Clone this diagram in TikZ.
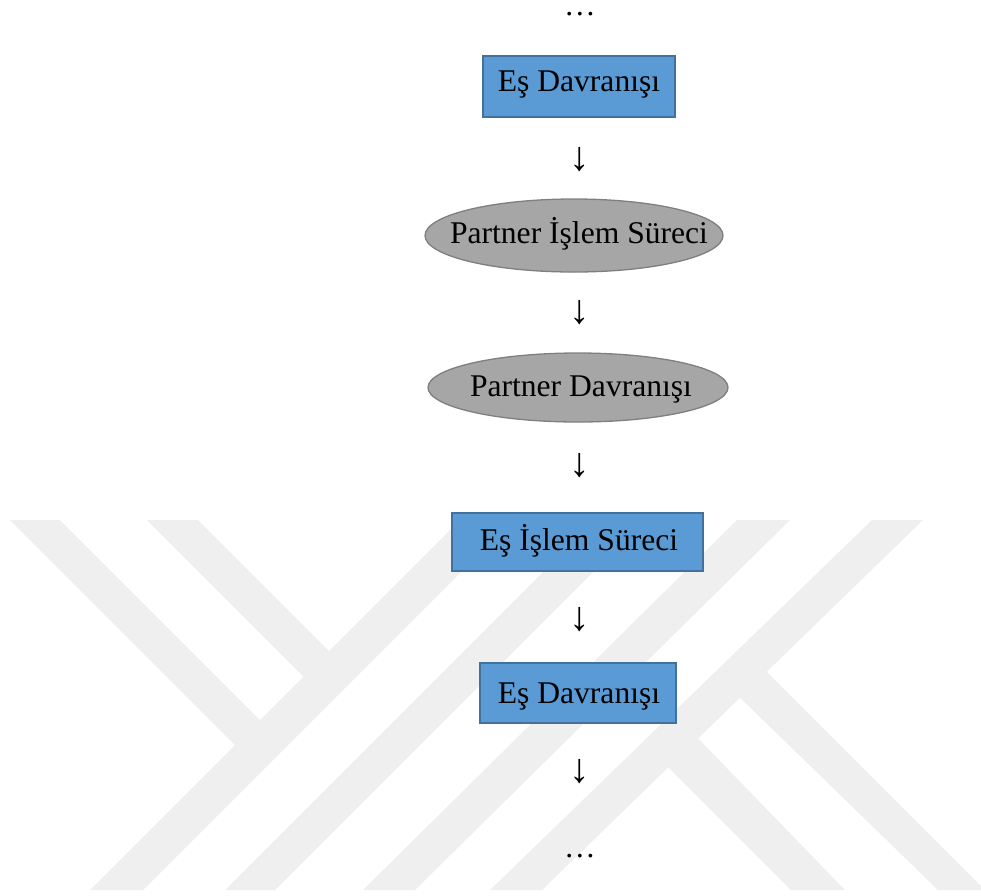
\documentclass[tikz,border=0pt]{standalone}
\usepackage{fontspec}
\setmainfont{Liberation Serif}
\usetikzlibrary{shapes.geometric}
\definecolor{boxfill}{HTML}{5B9BD5}
\definecolor{boxline}{HTML}{41719C}
\definecolor{ellfill}{HTML}{A6A6A6}
\definecolor{ellline}{HTML}{7F7F7F}
\definecolor{wm}{HTML}{EFEFEF}
\newcommand\mytxt[2]{\makebox[0pt]{\hspace*{#1}#2}}
\begin{document}
\begin{tikzpicture}[x=1pt,y=-1pt,
  lbl/.style={font=\fontsize{31.6}{38}\selectfont, inner sep=0pt, text depth=0pt, text height=#1},
  bluebox/.style={rectangle, draw=boxline, line width=1.8pt, fill=boxfill},
  grayell/.style={ellipse, draw=ellline, line width=1.3pt, fill=ellfill},
  arr/.style={font=\fontsize{41}{46}\selectfont, inner sep=0pt},
  dotsnode/.style={font=\fontsize{31.6}{38}\selectfont, inner sep=0pt, anchor=base, text height=5pt, text depth=0pt}]
\useasboundingbox (0,0) rectangle (981,895);
% watermark
\begin{scope}
\clip (0,0) rectangle (981,895);
\fill[wm] (10,520) -- (60,520) -- (270,730) -- (245,755) -- cycle;
\fill[wm] (147,520) -- (198,520) -- (339,661) -- (313.5,686.5) -- cycle;
\fill[wm] (90,890) -- (143,890) -- (513,520) -- (460,520) -- cycle;
\fill[wm] (225,890) -- (275,890) -- (645,520) -- (595,520) -- cycle;
\fill[wm] (363,890) -- (415,890) -- (790,520) -- (737,520) -- cycle;
\fill[wm] (490,890) -- (542,890) -- (923,520) -- (872,520) -- cycle;
\fill[wm] (757,662) -- (985,890) -- (938,890) -- (730,688) -- cycle;
\fill[wm] (688,728) -- (845,890) -- (791,890) -- (658,757) -- cycle;
\end{scope}
% nodes
\node[dotsnode] (d1) at (580,15) {…};
\node[bluebox, lbl=10.4pt, minimum width=192pt, minimum height=61pt] (b1) at (579,86.5) {\mytxt{0pt}{Eş Davranışı}};
\node[arr] (a1) at (580,159.7) {↓};
\node[grayell, lbl=15.6pt, minimum width=298pt, minimum height=73pt] (e1) at (574,235.5) {\mytxt{10pt}{Partner İşlem Süreci}};
\node[arr] (a2) at (580,313) {↓};
\node[grayell, lbl=18.4pt, minimum width=300pt, minimum height=69pt] (e2) at (578,387.5) {\mytxt{6pt}{Partner Davranışı}};
\node[arr] (a3) at (580,466) {↓};
\node[bluebox, lbl=17.4pt, minimum width=251pt, minimum height=58pt] (b2) at (577.5,542) {\mytxt{3pt}{Eş İşlem Süreci}};
\node[arr] (a4) at (580,619.5) {↓};
\node[bluebox, lbl=20pt, minimum width=196pt, minimum height=60pt] (b3) at (578,693) {\mytxt{2pt}{Eş Davranışı}};
\node[arr] (a5) at (580,771.5) {↓};
\node[dotsnode] (d2) at (580,857) {…};
\end{tikzpicture}
\end{document}
